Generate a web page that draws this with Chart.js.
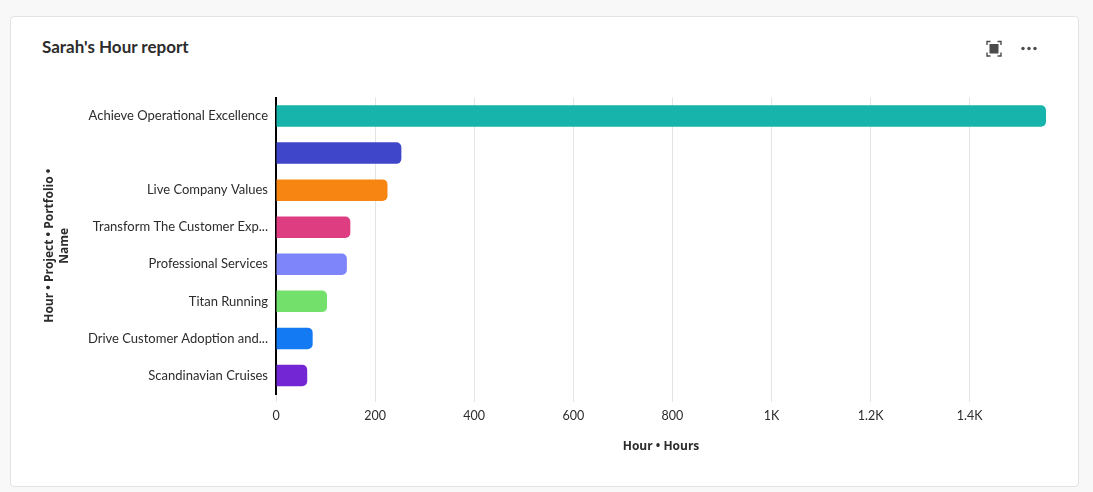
<!DOCTYPE html>
<html>
<head>
<meta charset="utf-8">
<script src="https://cdn.jsdelivr.net/npm/chart.js@4"></script>
<style>
  html, body { margin: 0; padding: 0; background: #f8f8f8; width: 1093px; height: 492px; overflow: hidden; }
  .card { position: absolute; left: 10px; top: 16px; width: 1067px; height: 469px; background: #fff; border: 1px solid #e3e3e3; border-radius: 4px; }
  .title { position: absolute; left: 42px; top: 36px; font: bold 17px Lato, "Open Sans", sans-serif; color: #2c2c2c; }
  .icons { position: absolute; left: 985px; top: 40px; }
  canvas { position: absolute; left: 0; top: 0; }
</style>
</head>
<body>
<div class="card"></div>
<div class="title">Sarah's Hour report</div>
<svg class="icons" width="60" height="18" viewBox="0 0 60 18">
  <g fill="none" stroke="#4b4b4b" stroke-width="1.4">
    <path d="M2 5V1.5H5.5M12.5 1.5H16V5M16 12.5V16H12.5M5.5 16H2V12.5"/>
  </g>
  <rect x="4.5" y="4" width="9" height="9.5" fill="#4b4b4b"/>
  <circle cx="38" cy="8.5" r="1.7" fill="#4b4b4b"/>
  <circle cx="44" cy="8.5" r="1.7" fill="#4b4b4b"/>
  <circle cx="50" cy="8.5" r="1.7" fill="#4b4b4b"/>
</svg>
<canvas id="c" width="1093" height="492"></canvas>
<script>
const categories = [
  "Achieve Operational Excellence",
  "",
  "Live Company Values",
  "Transform The Customer Exp...",
  "Professional Services",
  "Titan Running",
  "Drive Customer Adoption and...",
  "Scandinavian Cruises"
];
const hours = [1554, 253, 225, 150, 143, 103, 74, 63];
const palette = ["#17B4AC", "#4046CA", "#F68511", "#DE3D82", "#7E84FA", "#72E06A", "#147AF3", "#7326D3"];
const xTitle = "Hour • Hours";
const yTitle = ["Hour • Project • Portfolio •", "Name"];

const FONT = 'Lato, "Open Sans", sans-serif';
const TFONT = '"Open Sans", Lato, sans-serif';

new Chart(document.getElementById('c'), {
  type: 'bar',
  data: {
    labels: categories,
    datasets: [{
      data: hours,
      backgroundColor: palette,
      borderWidth: 0,
      borderRadius: 5,
      borderSkipped: 'start',
      categoryPercentage: 1,
      barPercentage: 0.58
    }]
  },
  options: {
    indexAxis: 'y',
    responsive: false,
    animation: false,
    layout: { padding: { left: 0, right: 47, top: 97.5, bottom: 0 } },
    plugins: { legend: { display: false }, tooltip: { enabled: false } },
    scales: {
      x: {
        min: 0,
        max: Math.max(...hours),
        ticks: {
          stepSize: 200,
          includeBounds: false,
          padding: 6,
          color: '#2c2c2c',
          font: { family: FONT, size: 12.5 },
          callback: v => v >= 1000 ? (v / 1000) + 'K' : String(v)
        },
        grid: { color: '#e4e4e4', lineWidth: 1, tickLength: 8 },
        border: { display: false },
        title: {
          display: true,
          text: xTitle,
          color: '#2c2c2c',
          font: { family: TFONT, size: 12, weight: 'bold' },
          padding: { top: 0, bottom: 38 }
        },
        afterFit: s => { s.height = 98; }
      },
      y: {
        ticks: {
          padding: 8,
          color: '#2c2c2c',
          font: { family: FONT, size: 13 }
        },
        grid: { display: false, drawTicks: false },
        border: { display: true, color: '#000', width: 2 },
        title: {
          display: true,
          text: yTitle,
          color: '#2c2c2c',
          font: { family: TFONT, size: 12, weight: 'bold', lineHeight: 1.25 },
          padding: { top: 42.5, bottom: 0 }
        },
        afterFit: s => { s.width = 276; }
      }
    }
  }
});
</script>
</body>
</html>
